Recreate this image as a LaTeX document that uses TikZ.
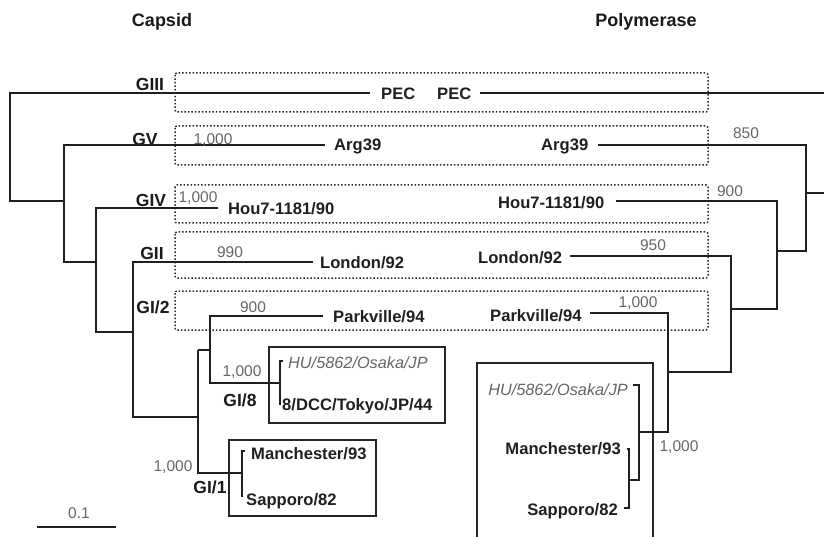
\documentclass[tikz,border=0pt]{standalone}
\usepackage{fontspec}
\setmainfont{Liberation Sans}
\begin{document}
\begin{tikzpicture}[x=1pt,y=-1pt,
  br/.style={line width=1.9pt,color=black!88},
  dbox/.style={dotted,line width=1.5pt,color=black!85,rounded corners=2pt},
  sbox/.style={line width=1.7pt,color=black!85},
  leaf/.style={font=\fontsize{16.6}{19}\selectfont\bfseries,text=black!88,inner sep=0pt},
  ileaf/.style={font=\fontsize{16.3}{19}\selectfont\itshape,text=black!60,inner sep=0pt},
  boot/.style={font=\fontsize{15.5}{18}\selectfont,text=black!60,inner sep=0pt},
  grp/.style={font=\fontsize{17.5}{19}\selectfont\bfseries,text=black!90,inner sep=0pt},
  ttl/.style={font=\fontsize{18}{20}\selectfont\bfseries,text=black!90,inner sep=0pt}]
\useasboundingbox (0,0) rectangle (824,537);

% titles
\node[ttl] (tcap) at (162,22) {Capsid};
\node[ttl] (tpol) at (646,22) {Polymerase};

% dotted group boxes
\draw[dbox] (175,73) rectangle (708,112);
\draw[dbox] (175,126) rectangle (708,165);
\draw[dbox] (175,185) rectangle (708,223);
\draw[dbox] (175,232) rectangle (708,278);
\draw[dbox] (175,291) rectangle (708,330);

% solid boxes
\draw[sbox] (269,347) rectangle (445,423);
\draw[sbox] (229,440) rectangle (376,516);
\draw[sbox] (477,545) -- (477,363) -- (653,363) -- (653,545);

% group labels
\node[grp] (gIII) at (150,84) {GIII};
\node[grp] (gV) at (145,139) {GV};
\node[grp] (gIV) at (151,200) {GIV};
\node[grp] (gII) at (152,253) {GII};
\node[grp] (gI2) at (153,307) {GI/2};
\node[grp] (gI8) at (240,400) {GI/8};
\node[grp] (gI1) at (210,487) {GI/1};

% ---------------- left tree (capsid) ----------------
\coordinate (a0) at (10,93);
\coordinate (a1) at (10,201);
\coordinate (b0) at (64,145);
\coordinate (b1) at (64,201);
\coordinate (b2) at (64,262);
\coordinate (c0) at (96,208);
\coordinate (c1) at (96,262);
\coordinate (c2) at (96,332);
\coordinate (d0) at (133,262);
\coordinate (d1) at (133,332);
\coordinate (d2) at (133,417);
\coordinate (e0) at (198,350);
\coordinate (e1) at (198,417);
\coordinate (e2) at (198,473);
\coordinate (f0) at (210,316);
\coordinate (f1) at (210,350);
\coordinate (f2) at (210,383);
\coordinate (pecL) at (370,93);
\coordinate (argL) at (325,145);
\coordinate (houL) at (218,208);
\coordinate (lonL) at (313,262);
\coordinate (parL) at (323,316);
\coordinate (g8) at (280,383);
\coordinate (g8t) at (280,361);
\coordinate (g8tt) at (283,361);
\coordinate (g8b) at (280,405);
\coordinate (g1) at (242,473);
\coordinate (g1t) at (242,451);
\coordinate (g1tt) at (245,451);
\coordinate (g1b) at (242,497);

\draw[br] (pecL) -- (a0) -- (a1) -- (b1);
\draw[br] (argL) -- (b0) -- (b2) -- (c1);
\draw[br] (houL) -- (c0) -- (c2) -- (d1);
\draw[br] (lonL) -- (d0) -- (d2) -- (e1);
\draw[br] (e0) -- (e2) -- (g1);
\draw[br] (e0) -- (f1);
\draw[br] (parL) -- (f0) -- (f2) -- (g8);
\draw[br] (g8tt) -- (g8t) -- (g8b);
\draw[br] (g1tt) -- (g1t) -- (g1b);

\node[leaf,anchor=west] (pec1) at (381,94) {PEC};
\node[leaf,anchor=west] (arg1) at (334,146) {Arg39};
\node[leaf,anchor=west] (hou1) at (228,209) {Hou7-1181/90};
\node[leaf,anchor=west] (lon1) at (320,263) {London/92};
\node[leaf,anchor=west] (par1) at (333,317) {Parkville/94};
\node[ileaf,anchor=west] (hu1) at (288,363) {HU/5862/Osaka/JP};
\node[leaf,anchor=west] (dcc1) at (282,406) {8/DCC/Tokyo/JP/44};
\node[leaf,anchor=west] (man1) at (251,454) {Manchester/93};
\node[leaf,anchor=west] (sap1) at (246,501) {Sapporo/82};

\node[boot] (bs1) at (213,140) {1,000};
\node[boot] (bs2) at (198,198) {1,000};
\node[boot] (bs3) at (230,252) {990};
\node[boot] (bs4) at (253,307) {900};
\node[boot] (bs5) at (242,372) {1,000};
\node[boot] (bs6) at (173,467) {1,000};

% scale bar
\coordinate (sb0) at (37,527);
\coordinate (sb1) at (116,527);
\draw[br,line width=1.5pt] (sb0) -- (sb1);
\node[boot] (sbl) at (79,513) {0.1};

% ---------------- right tree (polymerase) ----------------
\node[leaf,anchor=west] (pec2) at (437,94) {PEC};
\node[leaf,anchor=west] (arg2) at (541,146) {Arg39};
\node[leaf,anchor=west] (hou2) at (498,203) {Hou7-1181/90};
\node[leaf,anchor=west] (lon2) at (478,258) {London/92};
\node[leaf,anchor=west] (par2) at (490,316) {Parkville/94};
\node[ileaf,anchor=east] (hu2) at (628,390) {HU/5862/Osaka/JP};
\node[leaf,anchor=east] (man2) at (621,449) {Manchester/93};
\node[leaf,anchor=east] (sap2) at (618,511) {Sapporo/82};

\coordinate (pecR0) at (480,93);
\coordinate (pecR1) at (824,93);
\coordinate (argR) at (598,145);
\coordinate (p0) at (806,145);
\coordinate (p1) at (806,193);
\coordinate (p2) at (806,251);
\coordinate (pout) at (824,193);
\coordinate (houR) at (616,201);
\coordinate (q0) at (777,201);
\coordinate (q1) at (777,251);
\coordinate (q2) at (777,309);
\coordinate (lonR) at (570,256);
\coordinate (r0) at (731,256);
\coordinate (r1) at (731,309);
\coordinate (r2) at (731,372);
\coordinate (parR) at (590,313);
\coordinate (s0) at (668,313);
\coordinate (s1) at (668,372);
\coordinate (s2) at (668,432);
\coordinate (t0) at (639,385);
\coordinate (t0t) at (633,385);
\coordinate (t1) at (639,432);
\coordinate (t2) at (639,480);
\coordinate (u1) at (629,480);
\coordinate (u0) at (629,449);
\coordinate (u0t) at (627,449);
\coordinate (u2) at (629,508);
\coordinate (u2t) at (624,508);

\draw[br] (pecR0) -- (pecR1);
\draw[br] (argR) -- (p0) -- (p2) -- (q1);
\draw[br] (p1) -- (pout);
\draw[br] (houR) -- (q0) -- (q2) -- (r1);
\draw[br] (lonR) -- (r0) -- (r2) -- (s1);
\draw[br] (parR) -- (s0) -- (s2) -- (t1);
\draw[br] (t0t) -- (t0) -- (t2) -- (u1);
\draw[br] (u0t) -- (u0) -- (u2) -- (u2t);

\node[boot] (bp1) at (746,133) {850};
\node[boot] (bp2) at (730,191) {900};
\node[boot] (bp3) at (653,245) {950};
\node[boot] (bp4) at (638,303) {1,000};
\node[boot] (bp5) at (679,447) {1,000};
\end{tikzpicture}
\end{document}
